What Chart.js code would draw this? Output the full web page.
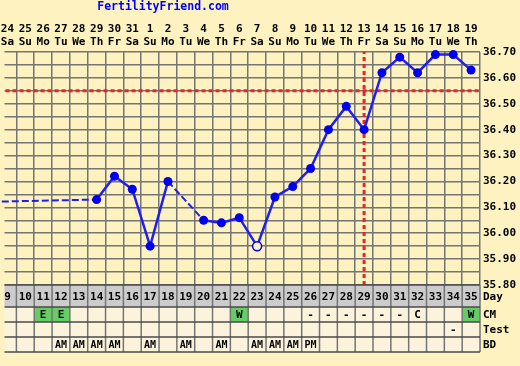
<!DOCTYPE html>
<html>
<head>
<meta charset="utf-8">
<title>BBT chart</title>
<script src="https://cdn.jsdelivr.net/npm/chart.js@4.4.1/dist/chart.umd.min.js"></script>
<style>
  html, body { margin: 0; padding: 0; background: #fdf2c0; }
  #wrap { width: 520px; height: 366px; position: relative; }
</style>
</head>
<body>
<div id="wrap"><canvas id="bbt" width="520" height="366"></canvas></div>
<script>
// visible cycle days and their calendar labels
const cycleDays = [9, 10, 11, 12, 13, 14, 15, 16, 17, 18, 19, 20, 21, 22, 23, 24, 25, 26, 27, 28, 29, 30, 31, 32, 33, 34, 35];
const calendarDates = ['24', '25', '26', '27', '28', '29', '30', '31', '1', '2', '3', '4', '5', '6', '7', '8', '9', '10', '11', '12', '13', '14', '15', '16', '17', '18', '19'];
const weekDays = ['Sa', 'Su', 'Mo', 'Tu', 'We', 'Th', 'Fr', 'Sa', 'Su', 'Mo', 'Tu', 'We', 'Th', 'Fr', 'Sa', 'Su', 'Mo', 'Tu', 'We', 'Th', 'Fr', 'Sa', 'Su', 'Mo', 'Tu', 'We', 'Th'];

// temperatures (only days with a reading; day 7 is off the left edge)
const tempDays = [7, 14, 15, 16, 17, 18, 20, 21, 22, 23, 24, 25, 26, 27, 28, 29, 30, 31, 32, 33, 34, 35];
const tempValues = [36.12, 36.13, 36.22, 36.17, 35.95, 36.20, 36.05, 36.04, 36.06, 35.95, 36.14, 36.18, 36.25, 36.40, 36.49, 36.40, 36.62, 36.68, 36.62, 36.69, 36.69, 36.63];
const discardedDays = [23];

const coverline = 36.55;
const ovulationDay = 29;

// table rows, one entry per visible day
const cmRow   = ['', '', 'E', 'E', '', '', '', '', '', '', '', '', '', 'W', '', '', '', '-', '-', '-', '-', '-', '-', 'C', '', '', 'W'];
const testRow = ['', '', '', '', '', '', '', '', '', '', '', '', '', '', '', '', '', '', '', '', '', '', '', '', '', '-', ''];
const bdRow   = ['', '', '', 'AM', 'AM', 'AM', 'AM', '', 'AM', '', 'AM', '', 'AM', '', 'AM', 'AM', 'AM', 'PM', '', '', '', '', '', '', '', '', ''];
const fertileCm = ['E', 'W'];

const yTicks = [35.80, 35.85, 35.90, 35.95, 36.00, 36.05, 36.10, 36.15, 36.20, 36.25, 36.30, 36.35, 36.40, 36.45, 36.50, 36.55, 36.60, 36.65, 36.70];

const BG = '#fdf2c0';
const GRID = '#747474';
const MONO = '"DejaVu Sans Mono", monospace';

const chartDecor = {
    id: 'chartDecor',
    afterDraw(chart) {
        const { ctx, chartArea: area, scales: { x } } = chart;
        const half = (x.getPixelForValue(10) - x.getPixelForValue(9)) / 2;
        ctx.save();

        // site title
        ctx.font = 'bold 11.5px ' + MONO;
        ctx.fillStyle = '#0000ff';
        ctx.textAlign = 'center';
        ctx.textBaseline = 'middle';
        ctx.fillText('FertilityFriend.com', 163, 7);

        // date / weekday header
        ctx.font = 'bold 11px ' + MONO;
        ctx.fillStyle = '#000';
        cycleDays.forEach((d, i) => {
            const cx = x.getPixelForValue(d);
            ctx.fillText(calendarDates[i], cx, 29);
            ctx.fillText(weekDays[i], cx, 42);
        });

        // bottom table
        const top = area.bottom;
        const rowLines = [top, 307, 322, 337, 352];
        ctx.fillStyle = '#cccccc';
        ctx.fillRect(area.left, rowLines[0], area.right - area.left, rowLines[1] - rowLines[0]);
        ctx.fillStyle = '#fcf3dd';
        ctx.fillRect(area.left, rowLines[1], area.right - area.left, rowLines[4] - rowLines[1]);

        cycleDays.forEach((d, i) => {
            const cx = x.getPixelForValue(d);
            if (fertileCm.includes(cmRow[i])) {
                ctx.fillStyle = '#66cc66';
                ctx.fillRect(cx - half, rowLines[1], half * 2, rowLines[2] - rowLines[1]);
            }
        });

        // cell borders
        ctx.strokeStyle = GRID;
        ctx.lineWidth = 1.5;
        cycleDays.forEach(d => {
            const bx = x.getPixelForValue(d) + half;
            ctx.beginPath();
            ctx.moveTo(bx, rowLines[0]);
            ctx.lineTo(bx, rowLines[4]);
            ctx.stroke();
        });
        ctx.strokeStyle = '#4a4a4a';
        rowLines.forEach(ly => {
            ctx.beginPath();
            ctx.moveTo(area.left, ly);
            ctx.lineTo(area.right, ly);
            ctx.stroke();
        });

        // cell texts
        ctx.fillStyle = '#000';
        cycleDays.forEach((d, i) => {
            const cx = x.getPixelForValue(d);
            ctx.font = 'bold 11px ' + MONO;
            ctx.fillText(String(d), cx, 297);
            ctx.fillText(cmRow[i], cx, 315);
            ctx.fillText(testRow[i], cx, 330);
            ctx.font = 'bold 10px ' + MONO;
            ctx.fillText(bdRow[i], cx, 345);
        });

        // row labels
        ctx.textAlign = 'left';
        ctx.font = 'bold 11px ' + MONO;
        ctx.fillText('Day', area.right + 3, 297);
        ctx.fillText('CM', area.right + 3, 315);
        ctx.fillText('Test', area.right + 3, 330);
        ctx.fillText('BD', area.right + 3, 345);

        ctx.restore();
    }
};

const tempPoints = tempDays.map((d, i) => ({ x: d, y: tempValues[i] }));
const gapDash = (c) => (c.p1.parsed.x - c.p0.parsed.x > 1 ? [7, 3] : undefined);
const gapWidth = (c) => (c.p1.parsed.x - c.p0.parsed.x > 1 ? 2 : 2.5);

new Chart(document.getElementById('bbt'), {
    type: 'line',
    data: {
        datasets: [
            {
                label: 'Temperature',
                data: tempPoints,
                borderColor: '#2020ee',
                borderWidth: 2.5,
                pointRadius: 4.5,
                pointBorderWidth: ctx => (discardedDays.includes(tempDays[ctx.dataIndex]) ? 1.5 : 0),
                pointBorderColor: '#0000ee',
                pointBackgroundColor: ctx => (discardedDays.includes(tempDays[ctx.dataIndex]) ? BG : '#0000ee'),
                segment: { borderDash: gapDash, borderWidth: gapWidth },
                clip: false,
                order: 0
            },
            {
                label: 'Coverline',
                data: [{ x: 8.5, y: coverline }, { x: 35.5, y: coverline }],
                borderColor: '#ee2222',
                borderWidth: 3,
                borderDash: [4, 3],
                pointRadius: 0,
                order: 1
            },
            {
                label: 'Ovulation',
                data: [{ x: ovulationDay, y: 35.80 }, { x: ovulationDay, y: 36.70 }],
                borderColor: '#ee2222',
                borderWidth: 3,
                borderDash: [4, 3],
                pointRadius: 0,
                order: 1
            }
        ]
    },
    options: {
        responsive: false,
        animation: false,
        devicePixelRatio: 1,
        layout: { padding: { top: 52, bottom: 81, left: 0, right: 0 } },
        plugins: {
            legend: { display: false },
            tooltip: { enabled: false },
            title: { display: false }
        },
        scales: {
            x: {
                type: 'linear',
                min: 8 + 5 / 6,
                max: 35.5,
                afterBuildTicks: scale => {
                    scale.ticks = cycleDays.map(d => ({ value: d + 0.5 }));
                },
                afterFit: scale => { scale.height = 0; },
                ticks: { display: false },
                grid: { color: GRID, lineWidth: 1.5, drawTicks: false },
                border: { display: false }
            },
            y: {
                type: 'linear',
                position: 'right',
                min: 35.80,
                max: 36.70,
                afterBuildTicks: scale => {
                    scale.ticks = yTicks.map(v => ({ value: v }));
                },
                afterFit: scale => { scale.width = 40; },
                ticks: {
                    autoSkip: false,
                    padding: 3,
                    color: '#000',
                    font: { family: MONO, size: 11, weight: 'bold' },
                    callback: v => (Math.round(v * 100) % 10 === 0 ? v.toFixed(2) : '')
                },
                grid: { color: GRID, lineWidth: 1.5, drawTicks: false },
                border: { display: false }
            }
        }
    },
    plugins: [chartDecor]
});
</script>
</body>
</html>
